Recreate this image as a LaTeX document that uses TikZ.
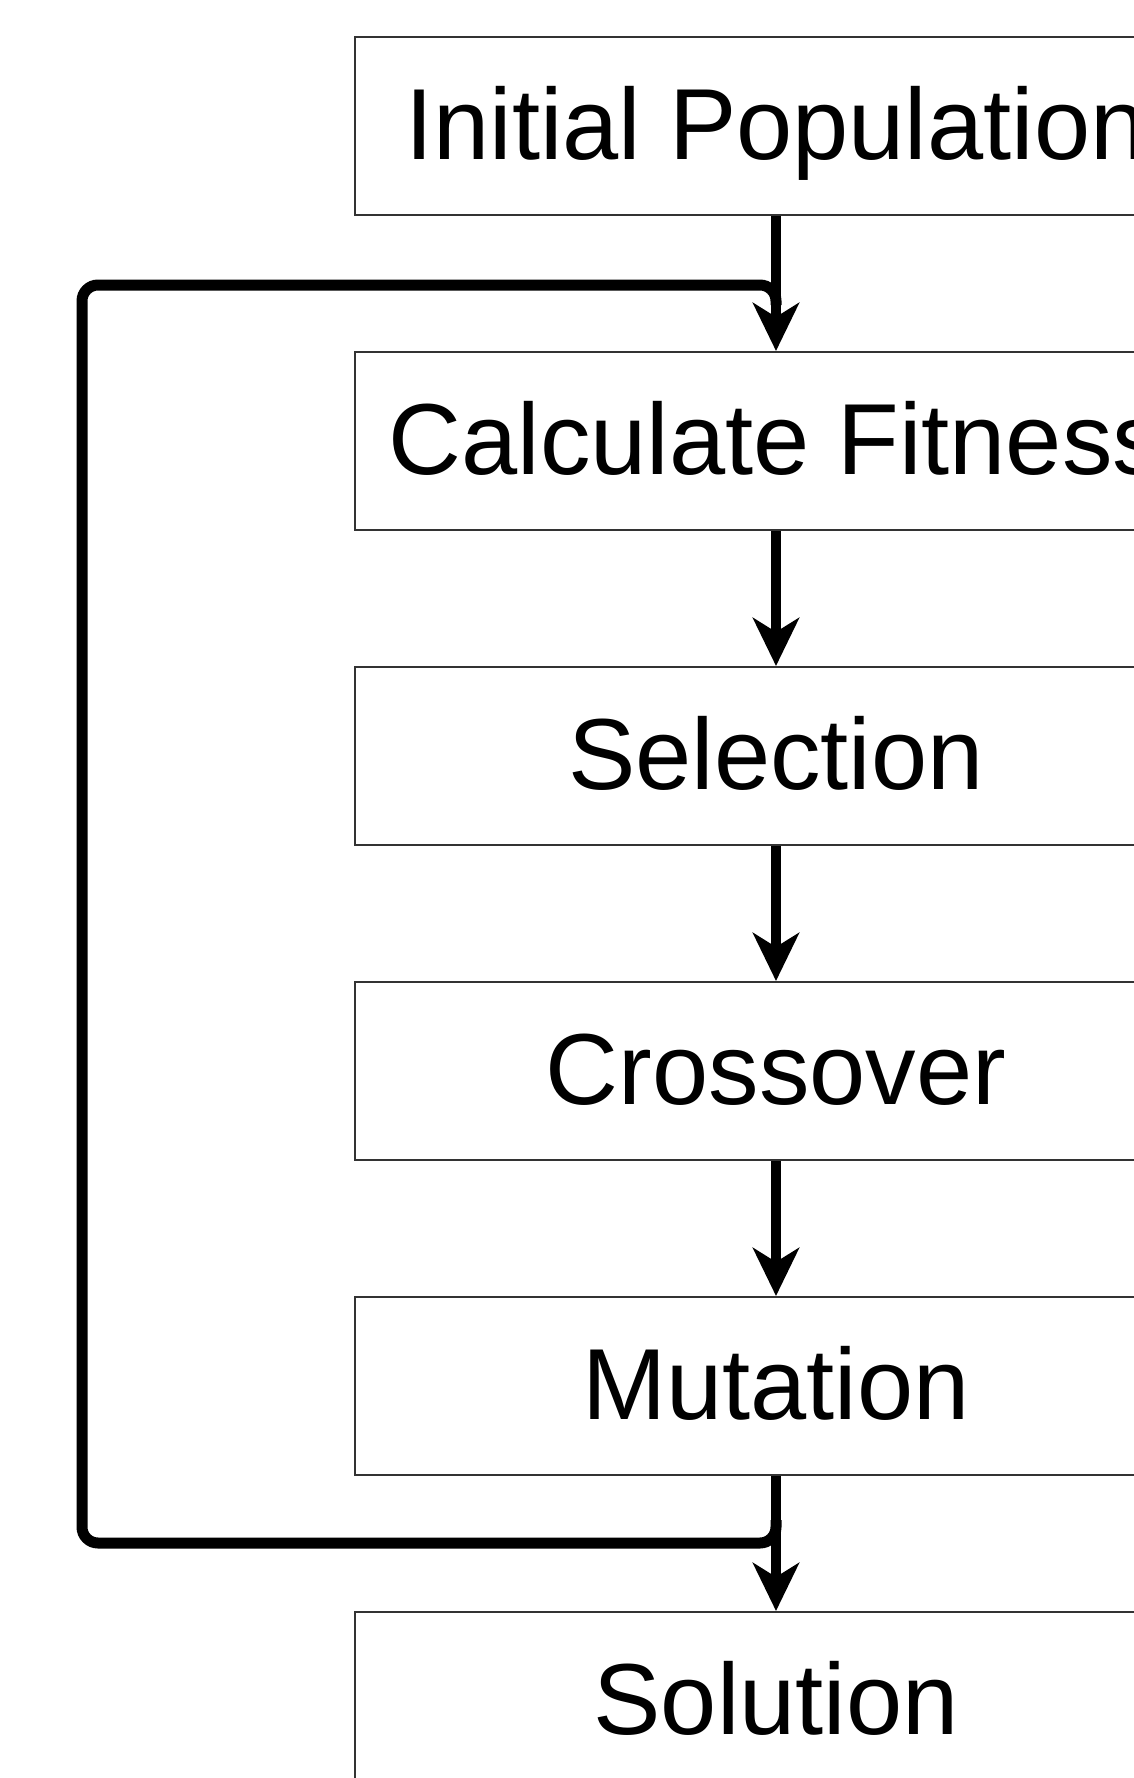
\documentclass[tikz,border=0pt]{standalone}
\usepackage{fontspec}
\setmainfont{Liberation Sans}
\usetikzlibrary{arrows.meta}
\begin{document}
\begin{tikzpicture}[x=0.5pt,y=-0.5pt,
  stepbox/.style={draw=black!80, line width=1pt, minimum width=421pt, minimum height=89pt, inner sep=0pt,
    text height=36pt, text depth=3pt, font=\fontsize{50.5pt}{60pt}\selectfont},
  flow/.style={line width=4.8pt, -{Stealth[length=24pt,width=23pt,inset=7pt]}},
  loopline/.style={line width=5.5pt, rounded corners=8pt}]
\clip (0,0) rectangle (1134,1778);
\fill[white] (0,0) rectangle (1134,1778);
\node[stepbox] (init) at (776,126) {Initial Population};
\node[stepbox] (fit) at (776,441) {Calculate Fitness};
\node[stepbox] (sel) at (776,756) {Selection};
\node[stepbox] (cross) at (776,1071) {Crossover};
\node[stepbox] (mut) at (776,1386) {Mutation};
\node[stepbox] (sol) at (776,1701) {Solution};
\coordinate (ls) at (776,1520);
\coordinate (lb) at (776,1543);
\coordinate (lbl) at (82,1543);
\coordinate (ltl) at (82,285);
\coordinate (lt) at (776,285);
\coordinate (le) at (776,305);
\draw[loopline] (ls) -- (lb) -- (lbl) -- (ltl) -- (lt) -- (le);
\draw[flow] (init) -- (fit);
\draw[flow] (fit) -- (sel);
\draw[flow] (sel) -- (cross);
\draw[flow] (cross) -- (mut);
\draw[flow] (mut) -- (sol);
\end{tikzpicture}
\end{document}
